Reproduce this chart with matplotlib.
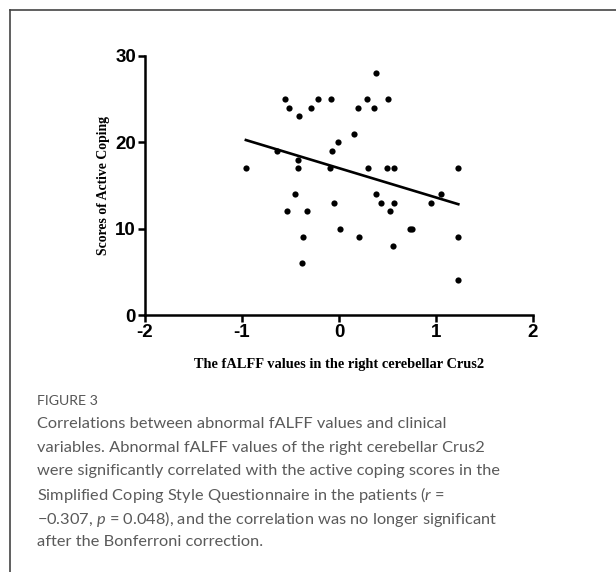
import numpy as np
import matplotlib
matplotlib.use("Agg")
import matplotlib.pyplot as plt
from matplotlib.lines import Line2D

# ---- data ----
falff = [-0.96, -0.64, -0.56, -0.52, -0.54, -0.45, -0.42, -0.42, -0.41, -0.38,
         -0.37, -0.33, -0.29, -0.22, -0.08, -0.07, -0.09, -0.055, -0.01, 0.01,
         0.15, 0.20, 0.21, 0.285, 0.30, 0.36, 0.38, 0.38, 0.43, 0.49,
         0.50, 0.53, 0.56, 0.57, 0.57, 0.73, 0.75, 0.95, 1.05, 1.23,
         1.23, 1.23]
coping = [17, 19, 25, 24, 12, 14, 18, 17, 23, 6,
          9, 12, 24, 25, 25, 19, 17, 13, 20, 10,
          21, 24, 9, 25, 17, 24, 28, 14, 13, 17,
          25, 12, 8, 17, 13, 10, 10, 13, 14, 17,
          9, 4]
xticks = [-2, -1, 0, 1, 2]
yticks = [0, 10, 20, 30]
xlabel = "The fALFF values in the right cerebellar Crus2"
ylabel = "Scores of Active Coping"
caption_title = "FIGURE 3"
caption_lines = [
    "Correlations between abnormal fALFF values and clinical",
    "variables. Abnormal fALFF values of the right cerebellar Crus2",
    "were significantly correlated with the active coping scores in the",
    r"Simplified Coping Style Questionnaire in the patients ($\mathit{r}$ =",
    r"−0.307, $\mathit{p}$ = 0.048), and the correlation was no longer significant",
    "after the Bonferroni correction.",
]

plt.rcParams['mathtext.fontset'] = 'custom'
plt.rcParams['mathtext.it'] = 'Lato:italic'
plt.rcParams['mathtext.rm'] = 'Lato'

W, H = 616, 572
fig = plt.figure(figsize=(W / 100, H / 100), dpi=100)
fig.patch.set_facecolor('white')

ax = fig.add_axes([145 / W, 1 - 315 / H, (533 - 145) / W, (315 - 56) / H])
x = np.array(falff)
y = np.array(coping)
ax.scatter(x, y, s=20, color='black', zorder=3, linewidths=0)
k, b = np.polyfit(x, y, 1)
xl = np.array([x.min(), x.max()])
ax.plot(xl, k * xl + b, color='black', lw=1.9, zorder=2)

ax.set_xlim(-2, 2)
ax.set_ylim(0, 30)
ax.set_xticks(xticks)
ax.set_yticks(yticks)
ax.set_xticklabels([str(t) for t in xticks])
ax.set_yticklabels([str(t) for t in yticks])
for s in ['top', 'right']:
    ax.spines[s].set_visible(False)
for s in ['left', 'bottom']:
    ax.spines[s].set_linewidth(1.8)
ax.tick_params(direction='out', length=5, width=1.8, labelsize=13.5, pad=1.5)
for lab in ax.get_xticklabels() + ax.get_yticklabels():
    lab.set_fontfamily('Liberation Sans')
    lab.set_fontweight('bold')
ax.set_xlabel(xlabel, family='Liberation Serif', fontweight='bold', fontsize=10.4, labelpad=12)
ax.set_ylabel(ylabel, family='Liberation Serif', fontweight='bold', fontsize=9.9, labelpad=4)

# frame around the figure panel
fy = 1 - 10 / H
fx = 10 / W
fig.add_artist(Line2D([fx, 1], [fy, fy], transform=fig.transFigure, color='#444444', lw=1.2))
fig.add_artist(Line2D([fx, fx], [0, fy], transform=fig.transFigure, color='#444444', lw=1.2))

fig.text(37 / W, 1 - 401 / H, caption_title, family='Lato', fontsize=10.2,
         color='#555555', va='center', ha='left')
y0 = 424
for i, line in enumerate(caption_lines):
    fig.text(37 / W, 1 - (y0 + i * 23.7) / H, line, family='Lato', fontsize=11.8,
             color='#5a5a5a', va='center', ha='left')

fig.savefig("out.png", dpi=100, facecolor='white')
